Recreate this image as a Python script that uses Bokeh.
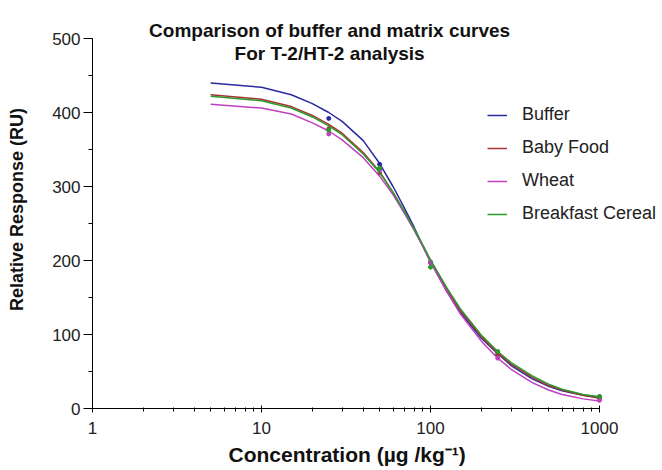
from bokeh.plotting import figure
from bokeh.models import (Legend, LegendItem, Label, Title, SingleIntervalTicker, LogTicker,
                          PrintfTickFormatter)
from bokeh.embed import file_html
from bokeh.resources import INLINE

# Fitted curve samples (concentration, µg/kg)
curve_conc = [5, 10, 15, 20, 25, 30, 40, 50, 60, 70, 80, 90, 100, 125, 150, 200, 250, 300, 400, 500, 600, 800, 1000]
buffer_curve = [440, 434, 424, 412, 400, 388, 362, 331, 300, 271, 245, 220, 198, 158, 130, 95, 74, 58, 40, 30, 24, 18, 15]
babyfood_curve = [424, 418, 408, 396, 384, 372, 346, 320, 292, 266, 242, 220, 200, 161, 133, 97, 75, 60, 42, 31, 25, 18, 14]
wheat_curve = [411, 406, 398, 386, 375, 363, 339, 314, 289, 264, 241, 219, 198, 158, 128, 91, 68, 53, 35, 25, 19, 13, 10]
cereal_curve = [422, 416, 406, 394, 382, 370, 344, 319, 292, 266, 243, 221, 201, 163, 135, 99, 77, 62, 44, 33, 26, 19, 16]

# Measured points
point_conc = [25, 50, 100, 250, 1000]
buffer_pts = [392, 330, 198, 73, 16]
babyfood_pts = [378, 318, 197, 73, 14]
wheat_pts = [371, 322, 197, 68, 11]
cereal_pts = [376, 325, 191, 77, 16]

series_names = ["Buffer", "Baby Food", "Wheat", "Breakfast Cereal"]
series_colors = ["#2a2aa0", "#a83232", "#c040c0", "#2a9a2a"]
title_lines = ["Comparison of buffer and matrix curves", "For T-2/HT-2 analysis"]
x_title = "Concentration (µg /kg⁻¹)"
y_title = "Relative Response (RU)"

FONT = "Liberation Sans"

# frame extends right/up so legend and title are not clipped; axes are bounded
X_END = 10 ** (568 / 169)
Y_END = 398 / 0.74

p = figure(output_backend="svg", toolbar_location=None,
           x_axis_type="log", x_range=(1, X_END), y_range=(0, Y_END),
           frame_width=568, frame_height=398,
           min_border_left=92, min_border_top=10, min_border_right=0, min_border_bottom=60,
           outline_line_color=None, background_fill_color="white")
p.grid.visible = False

curves = [buffer_curve, babyfood_curve, wheat_curve, cereal_curve]
pts = [buffer_pts, babyfood_pts, wheat_pts, cereal_pts]
items = []
for name, col, cv, pv in zip(series_names, series_colors, curves, pts):
    r = p.line(curve_conc, cv, line_color=col, line_width=1.5)
    p.scatter(point_conc, pv, size=4, color=col)
    items.append(LegendItem(label=name, renderers=[r]))

legend = Legend(items=items, location=(395, 184), padding=0, margin=0,
                spacing=12, glyph_width=20, glyph_height=20, label_height=20,
                label_standoff=15, label_text_font=FONT, label_text_font_size="18px",
                label_text_color="#222222", border_line_color=None,
                background_fill_alpha=0)
p.add_layout(legend, "center")

# axes
xa = p.xaxis[0]
xa.bounds = (1, 1000)
xa.ticker = LogTicker(num_minor_ticks=10)
xa.formatter = PrintfTickFormatter(format="%d")
xa.major_tick_in = 3
xa.major_tick_out = 4
xa.minor_tick_in = 1
xa.minor_tick_out = 3

ya = p.yaxis[0]
ya.bounds = (0, 500)
ya.ticker = SingleIntervalTicker(interval=100, num_minor_ticks=2)
ya.major_tick_in = 0
ya.major_tick_out = 9
ya.minor_tick_in = 0
ya.minor_tick_out = 4
ya.axis_label = y_title

for ax in (xa, ya):
    ax.axis_line_color = "black"
    ax.major_tick_line_color = "black"
    ax.minor_tick_line_color = "black"
    ax.major_label_text_font = FONT
    ax.major_label_text_font_size = "17px"
    ax.major_label_text_color = "#222222"
    ax.axis_label_text_font = FONT
    ax.axis_label_text_font_style = "bold"
    ax.axis_label_text_color = "#111111"
ya.axis_label_text_font_size = "18px"
ya.major_label_standoff = 3
ya.axis_label_standoff = 22
xa.major_label_standoff = 9

# x-axis title centred under the bounded axis (1..1000)
p.add_layout(Title(text=x_title, align="left", offset=136, standoff=8,
                   text_font=FONT, text_font_size="21px", text_font_style="bold",
                   text_color="#111111"), "below")

# chart title (two lines)
for txt, yy in zip(title_lines, (511, 480)):
    p.add_layout(Label(x=25.3, y=yy, text=txt, text_align="center", text_baseline="middle",
                       text_font=FONT, text_font_size="19px", text_font_style="bold",
                       text_color="#111111"))

open("out.html", "w").write(file_html(p, INLINE))
